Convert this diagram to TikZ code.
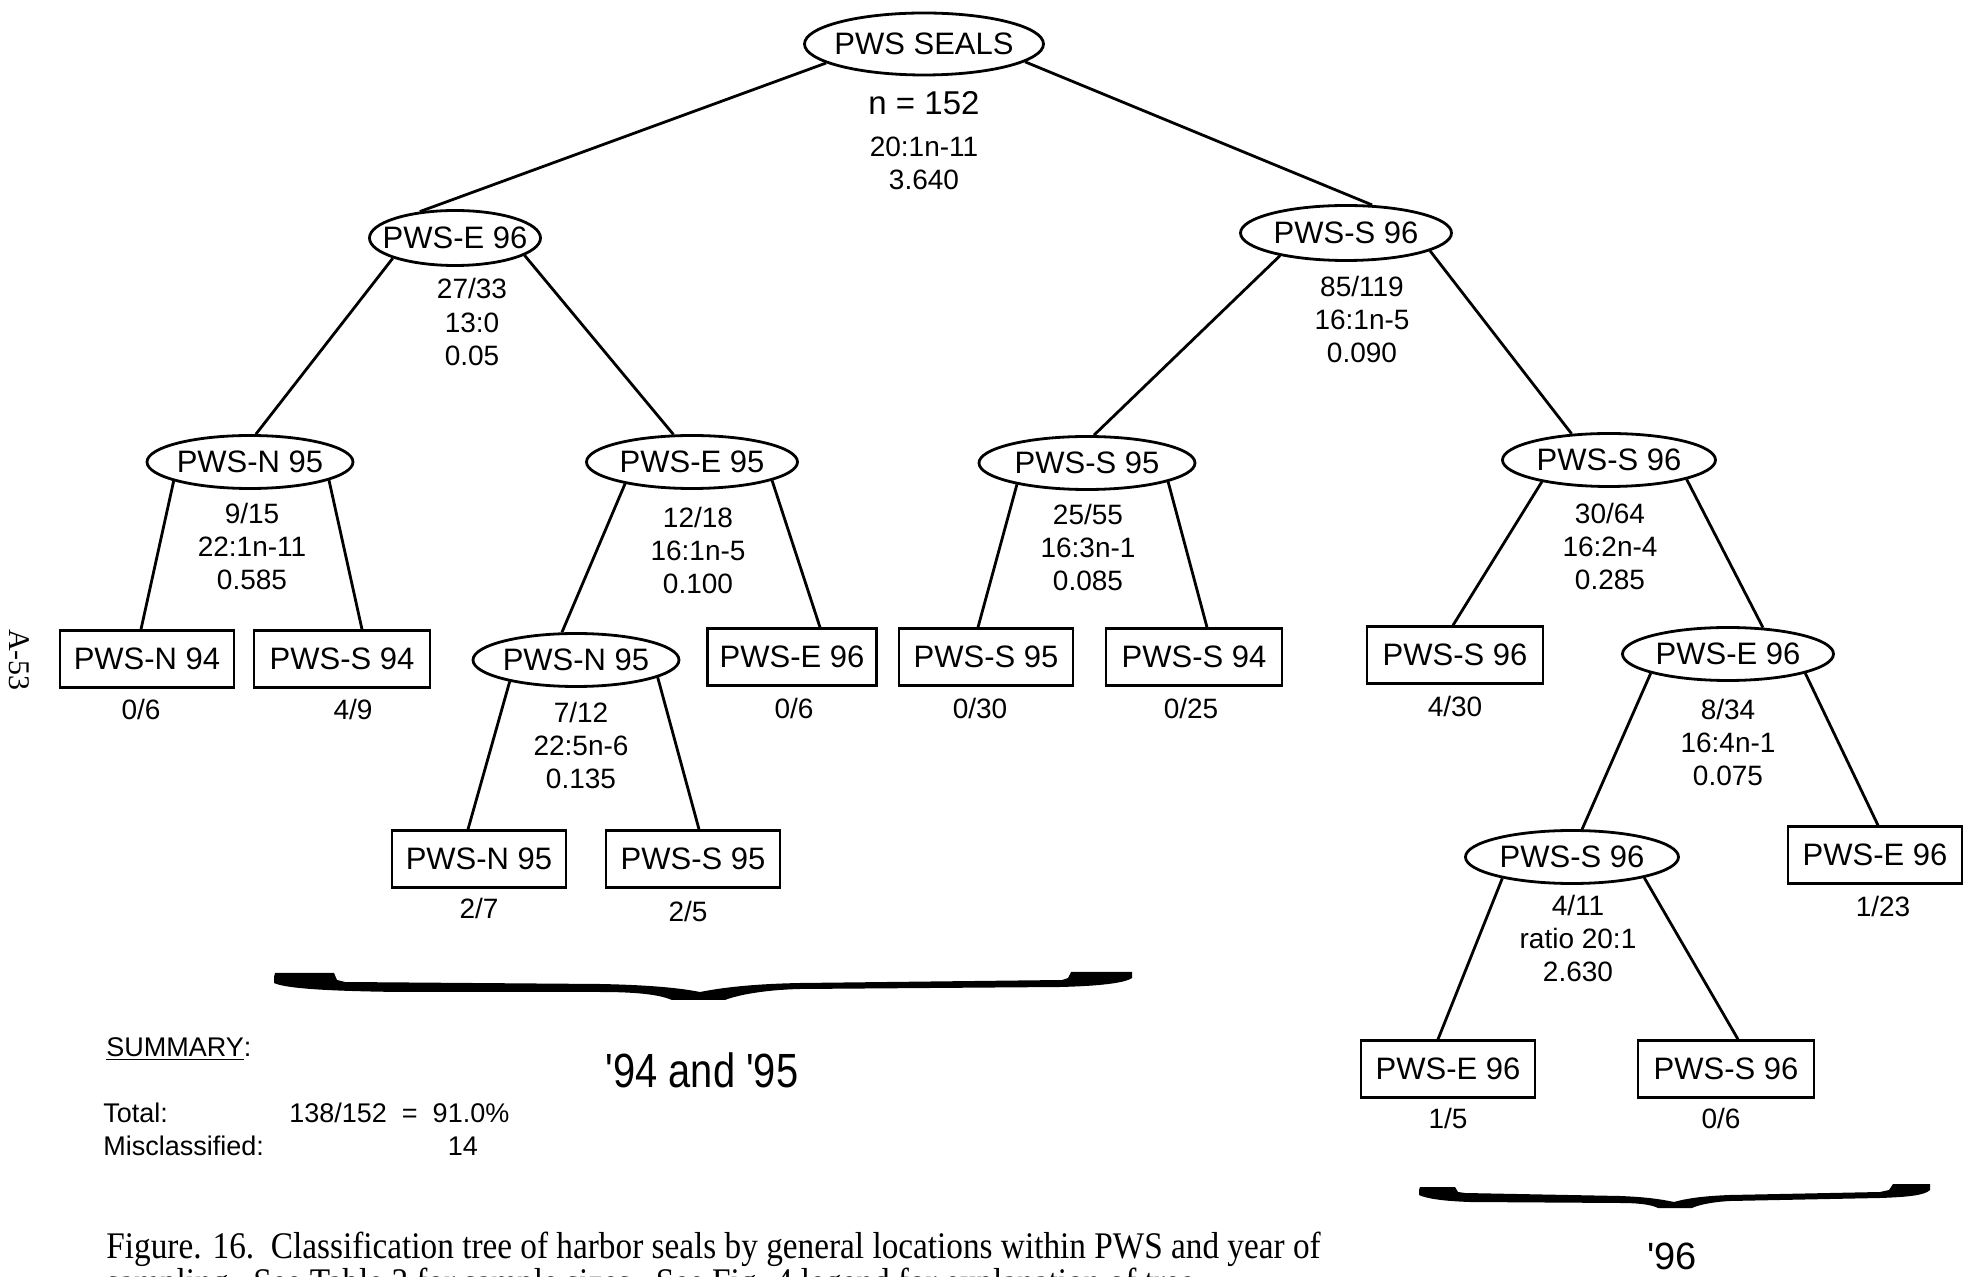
\documentclass[tikz,border=0pt]{standalone}
\usepackage{fontspec}
\setmainfont{Liberation Sans}
\newfontfamily\capfont{Liberation Serif}
\usetikzlibrary{shapes.geometric,calc}
\newcommand\mainlab{\fontsize{15.5}{18}\selectfont}
\newcommand\smalllab{\fontsize{14}{16.5}\selectfont}
\newcommand\sumfont{\fontsize{13.5}{16}\selectfont}
\tikzset{
  ell/.style={ellipse, draw, line width=1.4pt, inner sep=0pt, font=\mainlab},
  box/.style={rectangle, draw, line width=1.2pt, inner sep=0pt, minimum height=28.5pt, font=\mainlab},
  lab/.style={align=center, inner sep=0pt, font=\smalllab},
  edge/.style={line width=1.4pt},
  sumtxt/.style={anchor=west, inner sep=0pt, font=\sumfont}
}
\begin{document}
\begin{tikzpicture}[x=0.5pt,y=-0.5pt]
\useasboundingbox (0,0) rectangle (1972,1277);
\clip (0,0) rectangle (1972,1277);

% ---------- ellipses ----------
\node[ell, minimum width=119.5pt, minimum height=31pt] (root) at (924,44) {\makebox[0pt]{PWS SEALS}};
\node[ell, minimum width=85.5pt, minimum height=27.5pt] (e1) at (455,238) {\makebox[0pt]{PWS-E 96}};
\node[ell, minimum width=105.5pt, minimum height=27.5pt] (e2) at (1346,233) {\makebox[0pt]{PWS-S 96}};
\node[ell, minimum width=103pt, minimum height=26.5pt] (e3) at (250,462) {\makebox[0pt]{PWS-N 95}};
\node[ell, minimum width=105.5pt, minimum height=26.5pt] (e4) at (692,462) {\makebox[0pt]{PWS-E 95}};
\node[ell, minimum width=108pt, minimum height=26.5pt] (e5) at (1087,463) {\makebox[0pt]{PWS-S 95}};
\node[ell, minimum width=106.5pt, minimum height=26.5pt] (e6) at (1609,460) {\makebox[0pt]{PWS-S 96}};
\node[ell, minimum width=103pt, minimum height=26.5pt] (e7) at (576,660) {\makebox[0pt]{PWS-N 95}};
\node[ell, minimum width=105.5pt, minimum height=26.5pt] (e8) at (1728,654) {\makebox[0pt]{PWS-E 96}};
\node[ell, minimum width=106.5pt, minimum height=26.5pt] (e9) at (1572,857) {\makebox[0pt]{PWS-S 96}};

% ---------- boxes ----------
\node[box, minimum width=87pt] (b1) at (147,659) {PWS-N 94};
\node[box, minimum width=88pt] (b2) at (342,659) {PWS-S 94};
\node[box, minimum width=84.5pt] (b3) at (792,657) {PWS-E 96};
\node[box, minimum width=87pt] (b4) at (986,657) {PWS-S 95};
\node[box, minimum width=88pt] (b5) at (1194,657) {PWS-S 94};
\node[box, minimum width=88pt] (b6) at (1455,655) {PWS-S 96};
\node[box, minimum width=87pt] (b7) at (479,859) {PWS-N 95};
\node[box, minimum width=87pt] (b8) at (693,859) {PWS-S 95};
\node[box, minimum width=87pt] (b9) at (1875,855) {PWS-E 96};
\node[box, minimum width=87pt] (b10) at (1448,1069) {PWS-E 96};
\node[box, minimum width=88pt] (b11) at (1726,1069) {PWS-S 96};

% ---------- labels ----------
\node[inner sep=0pt, font=\fontsize{16.5}{18}\selectfont] (n152) at (924,103) {n = 152};
\node[lab] (l0) at (924,163) {20:1n-11\\3.640};
\node[lab] (l1) at (472,322) {27/33\\13:0\\0.05};
\node[lab] (l2) at (1362,319) {85/119\\16:1n-5\\0.090};
\node[lab] (l3) at (252,546) {9/15\\22:1n-11\\0.585};
\node[lab] (l4) at (698,550) {12/18\\16:1n-5\\0.100};
\node[lab] (l5) at (1088,547) {25/55\\16:3n-1\\0.085};
\node[lab] (l6) at (1610,546) {30/64\\16:2n-4\\0.285};
\node[lab] (l7) at (581,745) {7/12\\22:5n-6\\0.135};
\node[lab] (l8) at (1728,742) {8/34\\16:4n-1\\0.075};
\node[lab] (l9) at (1578,938) {4/11\\ratio 20:1\\2.630};
\node[lab] (lb1) at (141,709) {0/6};
\node[lab] (lb2) at (353,709) {4/9};
\node[lab] (lb3) at (794,708) {0/6};
\node[lab] (lb4) at (980,708) {0/30};
\node[lab] (lb5) at (1191,708) {0/25};
\node[lab] (lb6) at (1455,706) {4/30};
\node[lab] (lb7) at (479,908) {2/7};
\node[lab] (lb8) at (688,911) {2/5};
\node[lab] (lb9) at (1883,906) {1/23};
\node[lab] (lb10) at (1448,1118) {1/5};
\node[lab] (lb11) at (1721,1118) {0/6};

% ---------- connectors ----------
\draw[edge] (root.191) -- (e1.143);
\draw[edge] (root.350) -- (e2.47);
\draw[edge] (e1.198) -- (e3.78);
\draw[edge] (e1.346) -- (e4.124);
\draw[edge] (e2.199) -- (e5.76);
\draw[edge] (e2.348) -- (e6.145);
\draw[edge] (e3.194) -- ([shift={(-6,0)}]b1.north);
\draw[edge] (e3.347) -- ([shift={(20,0)}]b2.north);
\draw[edge] (e4.198) -- (e7.117);
\draw[edge] (e4.347) -- ([shift={(28,0)}]b3.north);
\draw[edge] (e5.197) -- ([shift={(-8,0)}]b4.north);
\draw[edge] (e5.347) -- ([shift={(13,0)}]b5.north);
\draw[edge] (e6.198) -- ([shift={(-2,0)}]b6.north);
\draw[edge] (e6.346) -- (e8.37);
\draw[edge] (e7.198) -- ([shift={(-11,0)}]b7.north);
\draw[edge] (e7.348) -- ([shift={(6,0)}]b8.north);
\draw[edge] (e8.194) -- (e9.70);
\draw[edge] (e8.346) -- ([shift={(3,0)}]b9.north);
\draw[edge] (e9.197) -- ([shift={(-10,0)}]b10.north);
\draw[edge] (e9.344) -- ([shift={(12,0)}]b11.north);

% ---------- braces ----------
\fill (274,977) -- (275,973) -- (334,973) -- (337,980) -- (345,982) -- (600,984)
  .. controls (650,985) and (680,988) .. (700,992)
  .. controls (720,988) and (750,984) .. (800,983) -- (1062,980) -- (1068,978) -- (1071,972)
  -- (1132,972) -- (1132,978) .. controls (1125,983) and (1100,986) .. (1060,987)
  -- (800,989) .. controls (760,990) and (735,996) .. (725,1000) -- (672,1000)
  .. controls (660,995) and (640,992) .. (600,992) -- (400,992)
  .. controls (320,991) and (285,988) .. (274,983) -- cycle;
\fill (1419,1190) -- (1420,1187) -- (1455,1187) -- (1458,1192) -- (1465,1193) -- (1620,1196)
  .. controls (1645,1197) and (1660,1199) .. (1674,1202)
  .. controls (1688,1198) and (1705,1196) .. (1730,1195) -- (1880,1192) -- (1889,1190) -- (1893,1184)
  -- (1930,1184) -- (1930,1190) .. controls (1925,1195) and (1910,1197) .. (1880,1198)
  -- (1730,1201) .. controls (1712,1202) and (1698,1205) .. (1692,1208) -- (1658,1208)
  .. controls (1650,1204) and (1635,1203) .. (1620,1203) -- (1470,1202)
  .. controls (1440,1201) and (1425,1198) .. (1419,1195) -- cycle;

\node[inner sep=0pt, font=\fontsize{24}{26}\selectfont] (y9495) at (702,1070) {\scalebox{0.83}[1]{\textquotesingle 94 and \textquotesingle 95}};
\node[inner sep=0pt, font=\fontsize{19}{20}\selectfont] (y96) at (1672,1256) {\textquotesingle 96};

% ---------- summary ----------
\node[sumtxt] (summ) at (106,1049) {\underline{SUMMARY}:};
\node[sumtxt] (tot) at (103,1113) {Total:};
\node[sumtxt] (totv) at (289,1113) {138/152 \ = \ 91.0\%};
\node[sumtxt] (mis) at (103,1146) {Misclassified:};
\node[inner sep=0pt, font=\sumfont] (misv) at (463,1146) {14};

% ---------- page number and caption ----------
\node[inner sep=0pt, rotate=-90, font=\capfont\fontsize{15}{15}\selectfont] (pg) at (19,660) {A-53};
\node[anchor=base west, inner sep=0pt, font=\capfont\fontsize{18.8}{18}\selectfont] (cap1) at (106,1258)
  {\scalebox{0.885}[1]{Figure. 16.\ \ Classification tree of harbor seals by general locations within PWS and year of}};
\node[anchor=base west, inner sep=0pt, font=\capfont\fontsize{18.8}{18}\selectfont] (cap2) at (106,1294)
  {\scalebox{0.885}[1]{sampling.\ \ See Table 3 for sample sizes.\ \ See Fig. 4 legend for explanation of tree.}};
\end{tikzpicture}
\end{document}
